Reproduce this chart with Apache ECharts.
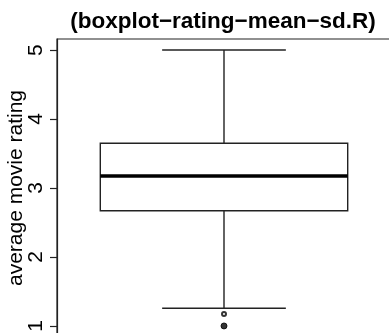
<!DOCTYPE html>
<html>
<head>
<meta charset="utf-8">
<script src="https://cdn.jsdelivr.net/npm/echarts@6/dist/echarts.min.js"></script>
<style>
  html, body { margin: 0; padding: 0; background: #fff; }
  #chart { width: 389px; height: 333px; }
</style>
</head>
<body>
<div id="chart"></div>
<script>
// box summary: [x, lower whisker, Q1, median, Q3, upper whisker]
var boxStats = [[1, 1.257, 2.671, 3.174, 3.648, 5.0]];
var outliers = [1.174, 1.0, 1.0, 1.0, 1.0];
var yTicks = [1, 2, 3, 4, 5];
var boxWidth = 0.8;

var lineColor = "#222";
var chart = echarts.init(document.getElementById("chart"));

// stack duplicated outliers into one point; piled-up ones look filled
var counts = {};
outliers.forEach(function (v) {
  counts[v] = (counts[v] || 0) + 1;
});
var outlierData = Object.keys(counts).map(function (k) {
  var n = counts[k];
  return {
    value: [1, Number(k)],
    symbol: n > 1 ? "circle" : "emptyCircle",
    symbolSize: n > 1 ? 6 : 4,
    itemStyle: { borderWidth: n > 1 ? 1 : 1.1 },
  };
});

function renderBox(params, api) {
  var x = api.value(0);
  var lo = api.coord([x, api.value(1)]);
  var q1 = api.coord([x, api.value(2)]);
  var med = api.coord([x, api.value(3)]);
  var q3 = api.coord([x, api.value(4)]);
  var hi = api.coord([x, api.value(5)]);
  var half = api.size([boxWidth / 2, 0])[0];
  var cap = half / 2;
  var thin = { stroke: lineColor, lineWidth: 1.4 };
  return {
    type: "group",
    children: [
      { type: "line", shape: { x1: lo[0], y1: lo[1], x2: q1[0], y2: q1[1] }, style: thin },
      { type: "line", shape: { x1: q3[0], y1: q3[1], x2: hi[0], y2: hi[1] }, style: thin },
      { type: "line", shape: { x1: lo[0] - cap, y1: lo[1], x2: lo[0] + cap, y2: lo[1] }, style: thin },
      { type: "line", shape: { x1: hi[0] - cap, y1: hi[1], x2: hi[0] + cap, y2: hi[1] }, style: thin },
      {
        type: "rect",
        shape: { x: q3[0] - half, y: q3[1], width: half * 2, height: q1[1] - q3[1] },
        style: { fill: "none", stroke: lineColor, lineWidth: 1.4 },
      },
      {
        type: "line",
        shape: { x1: med[0] - half, y1: med[1], x2: med[0] + half, y2: med[1] },
        style: { stroke: "#000", lineWidth: 3.5 },
      },
    ],
  };
}

var option = {
  animation: false,
  backgroundColor: "#fff",
  textStyle: { fontFamily: "Liberation Sans" },
  title: {
    text: "(boxplot\u2212rating\u2212mean\u2212sd.R)",
    left: 218,
    top: 5,
    textAlign: "center",
    textStyle: { fontSize: 22.5, fontWeight: "bold", color: "#000", fontFamily: "Liberation Sans" },
  },
  grid: {
    left: 57,
    top: 39,
    width: 334,
    height: 298,
    outerBoundsMode: "none",
    show: true,
    borderColor: "#222",
    borderWidth: 1.2,
    backgroundColor: "transparent",
  },
  xAxis: {
    type: "value",
    min: 0.46,
    max: 1.54,
    show: false,
  },
  yAxis: {
    type: "value",
    min: 0.84,
    max: 5.16,
    name: "average movie rating",
    nameLocation: "middle",
    nameGap: 30,
    nameMoveOverlap: false,
    nameTextStyle: { fontSize: 21, color: "#000", fontFamily: "Liberation Sans" },
    axisLine: { show: true, lineStyle: { color: "#222", width: 1.2 } },
    axisTick: { show: true, length: 7, customValues: yTicks, lineStyle: { color: "#222", width: 1.2 } },
    axisLabel: {
      customValues: yTicks,
      rotate: 90,
      margin: 10,
      fontSize: 21,
      color: "#000",
      fontFamily: "Liberation Sans",
    },
    splitLine: { show: false },
  },
  series: [
    {
      type: "custom",
      renderItem: renderBox,
      data: boxStats,
      encode: { x: 0, y: [1, 2, 3, 4, 5] },
      clip: false,
    },
    {
      type: "scatter",
      data: outlierData,
      itemStyle: { color: "#000", borderColor: "#000" },
    },
  ],
};

chart.setOption(option);
</script>
</body>
</html>
